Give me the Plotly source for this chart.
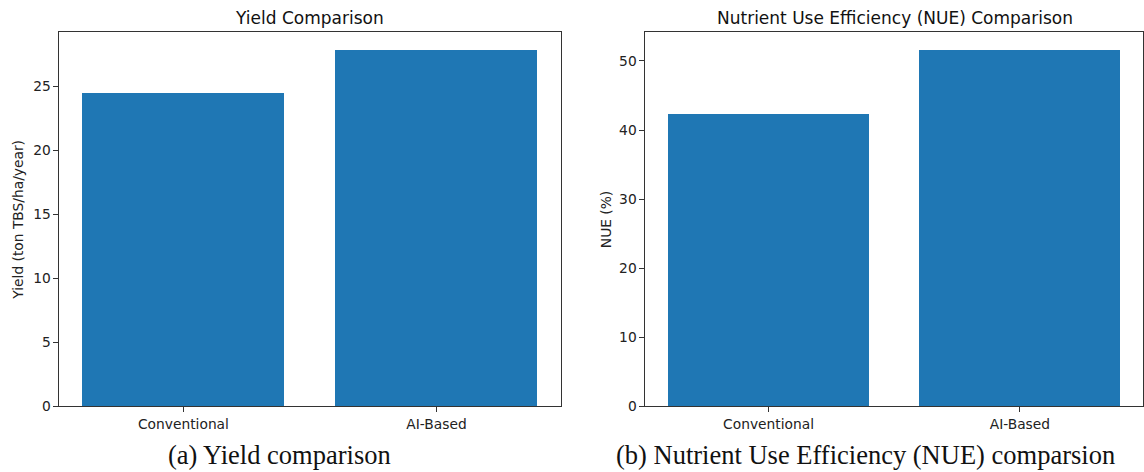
import plotly.graph_objects as go

categories = ["Conventional", "AI-Based"]
yield_values = [24.5, 27.85]
nue_values = [42.3, 51.6]
yield_ticks = [0, 5, 10, 15, 20, 25]
nue_ticks = [0, 10, 20, 30, 40, 50]

W, H = 1144, 472
K = 1 / 0.98  # vertical correction
color = "#1f77b4"
tickfont = dict(family="DejaVu Sans", size=13.8, color="#222")


def py(px):
    return (H - px * K) / H


fig = go.Figure()
fig.add_trace(go.Bar(x=[0, 1], y=yield_values, width=0.8, marker=dict(color=color, line=dict(width=0)),
                     xaxis="x", yaxis="y", showlegend=False))
fig.add_trace(go.Bar(x=[0, 1], y=nue_values, width=0.8, marker=dict(color=color, line=dict(width=0)),
                     xaxis="x2", yaxis="y2", showlegend=False))

ydom = [py(405), py(32)]
axcommon = dict(showgrid=False, zeroline=False, showline=True, linecolor="#333", linewidth=1,
                mirror=True, ticks="outside", ticklen=5, tickcolor="#333", tickfont=tickfont)

fig.update_layout(
    width=W, height=H, autosize=False, margin=dict(l=0, r=0, t=0, b=0),
    paper_bgcolor="white", plot_bgcolor="white", bargap=0,
    xaxis=dict(domain=[59.5 / W, 561 / W], range=[-0.49, 1.49], tickvals=[0, 1], ticktext=categories,
               anchor="y", **axcommon),
    yaxis=dict(domain=ydom, range=[0, 27.85 * 1.05], tickvals=yield_ticks, anchor="x", **axcommon),
    xaxis2=dict(domain=[646 / W, 1.0], range=[-0.49, 1.49], tickvals=[0, 1], ticktext=categories,
                anchor="y2", **axcommon),
    yaxis2=dict(domain=ydom, range=[0, 51.6 * 1.05], tickvals=nue_ticks, anchor="x2", **axcommon),
)

ann = []
ann.append(dict(text="Yield Comparison", x=310 / W, y=py(18), xref="paper", yref="paper",
                showarrow=False, font=dict(family="DejaVu Sans", size=17, color="#111"),
                xanchor="center", yanchor="middle"))
ann.append(dict(text="Nutrient Use Efficiency (NUE) Comparison", x=896 / W, y=py(18), xref="paper",
                yref="paper", showarrow=False, font=dict(family="DejaVu Sans", size=17, color="#111"),
                xanchor="center", yanchor="middle"))
ann.append(dict(text="Yield (ton TBS/ha/year)", x=18 / W, y=py(219), xref="paper", yref="paper",
                showarrow=False, textangle=-90, font=dict(family="DejaVu Sans", size=13.8, color="#222"),
                xanchor="center", yanchor="middle"))
ann.append(dict(text="NUE (%)", x=606 / W, y=py(219), xref="paper", yref="paper",
                showarrow=False, textangle=-90, font=dict(family="DejaVu Sans", size=13.8, color="#222"),
                xanchor="center", yanchor="middle"))
ann.append(dict(text="(a) Yield comparison", x=280 / W, y=py(454), xref="paper", yref="paper",
                showarrow=False, font=dict(family="Liberation Serif", size=26.5, color="#111"),
                xanchor="center", yanchor="middle"))
ann.append(dict(text="(b) Nutrient Use Efficiency (NUE) comparsion", x=866 / W, y=py(454),
                xref="paper", yref="paper", showarrow=False,
                font=dict(family="Liberation Serif", size=26.5, color="#111"),
                xanchor="center", yanchor="middle"))
fig.update_layout(annotations=ann)

fig.write_html("out.html",
               config={"displayModeBar": False, "responsive": False},
               post_script="document.body.style.margin='0';document.body.style.overflow='hidden';")
